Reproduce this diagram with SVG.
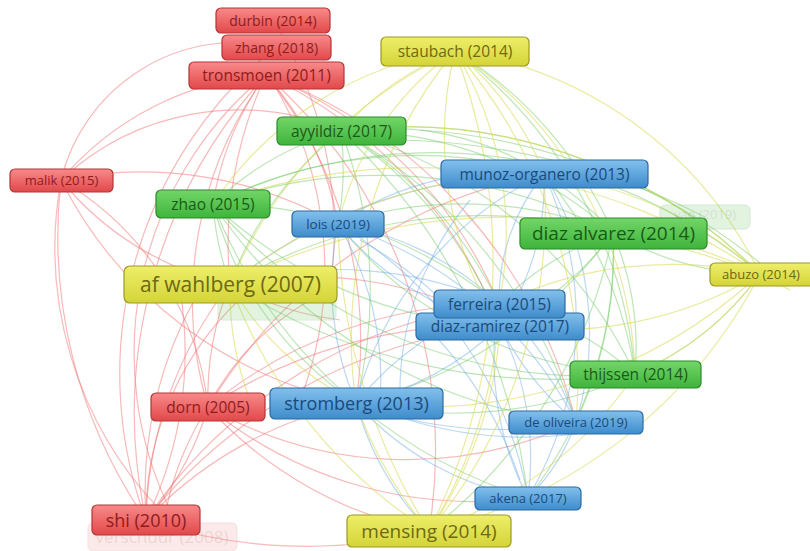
<svg xmlns="http://www.w3.org/2000/svg" width="810" height="551" viewBox="0 0 810 551">
  <defs>
    <linearGradient id="gR" x1="0" y1="0" x2="0" y2="1">
      <stop offset="0" stop-color="#f88a8a"/><stop offset="1" stop-color="#e2484a"/>
    </linearGradient>
    <linearGradient id="gY" x1="0" y1="0" x2="0" y2="1">
      <stop offset="0" stop-color="#eeee6a"/><stop offset="1" stop-color="#d4d438"/>
    </linearGradient>
    <linearGradient id="gG" x1="0" y1="0" x2="0" y2="1">
      <stop offset="0" stop-color="#72d668"/><stop offset="1" stop-color="#3fb43c"/>
    </linearGradient>
    <linearGradient id="gB" x1="0" y1="0" x2="0" y2="1">
      <stop offset="0" stop-color="#82c0ec"/><stop offset="1" stop-color="#3e8ccc"/>
    </linearGradient>
  </defs>
  <style>
    text { font-family: "Open Sans", "Noto Sans", "DejaVu Sans", sans-serif; text-anchor: middle; }
    .edges path { fill: none; stroke-width: 1.2; }
    .er { stroke: #f27474; stroke-opacity: 0.5; }
    .eg { stroke: #6cc860; stroke-opacity: 0.45; }
    .eb { stroke: #6aa8e2; stroke-opacity: 0.45; }
    .ey { stroke: #d8d850; stroke-opacity: 0.55; }
    .nR rect { fill: url(#gR); stroke: #b23636; stroke-width: 1.2; }
    .nR text { fill: #8e1c1c; }
    .nY rect { fill: url(#gY); stroke: #9c9a24; stroke-width: 1.2; }
    .nY text { fill: #6c6a12; }
    .nG rect { fill: url(#gG); stroke: #2c8a2a; stroke-width: 1.2; }
    .nG text { fill: #1a5a18; }
    .nB rect { fill: url(#gB); stroke: #2c6aa2; stroke-width: 1.2; }
    .nB text { fill: #1a4a7c; }
    .faded { opacity: 0.22; }
  </style>
  <rect width="810" height="551" fill="#ffffff"/>

  <!-- links -->
  <g class="edges">
    <!-- red cluster -->
    <path class="er" d="M266 75A400 400 0 0 0 230 284"/>
    <path class="er" d="M266 75A380 380 0 0 0 208 407"/>
    <path class="er" d="M266 75A500 500 0 0 0 146 520"/>
    <path class="er" d="M266 75A420 420 0 0 1 356 403"/>
    <path class="er" d="M266 75A300 300 0 0 1 338 224"/>
    <path class="er" d="M266 75A420 420 0 0 1 499 304"/>
    <path class="er" d="M266 75A460 460 0 0 1 500 326"/>
    <path class="er" d="M266 75A300 300 0 0 0 213 204"/>
    <path class="er" d="M266 75A500 500 0 0 1 429 531"/>
    <path class="er" d="M266 75A300 300 0 0 0 61 180"/>
    <path class="er" d="M266 75A500 500 0 0 1 576 422"/>
    <path class="er" d="M270 78A360 360 0 0 1 300 400"/>
    <path class="er" d="M262 78A360 360 0 0 0 170 510"/>
    <path class="er" d="M276 47A180 180 0 0 0 61 180"/>
    <path class="er" d="M276 47A420 420 0 0 0 146 520"/>
    <path class="er" d="M273 20A400 400 0 0 1 330 290"/>
    <path class="er" d="M61 180A260 260 0 0 1 341 131"/>
    <path class="er" d="M61 180A300 300 0 0 0 230 284"/>
    <path class="er" d="M61 180A300 300 0 0 1 208 407"/>
    <path class="er" d="M61 180A500 500 0 0 0 146 520"/>
    <path class="er" d="M61 180A420 420 0 0 0 356 403"/>
    <path class="er" d="M61 180A400 400 0 0 1 338 224"/>
    <path class="er" d="M61 180A380 380 0 0 0 160 510"/>
    <path class="er" d="M208 407A300 300 0 0 1 146 520"/>
    <path class="er" d="M208 407A300 300 0 0 1 230 284"/>
    <path class="er" d="M208 407A260 260 0 0 1 330 290"/>
    <path class="er" d="M208 407A500 500 0 0 1 500 326"/>
    <path class="er" d="M208 407A400 400 0 0 0 576 422"/>
    <path class="er" d="M208 407A420 420 0 0 0 528 498"/>
    <path class="er" d="M208 407A400 400 0 0 0 429 531"/>
    <path class="er" d="M208 407A500 500 0 0 1 544 174"/>
    <path class="er" d="M208 407A450 450 0 0 1 499 304"/>
    <path class="er" d="M146 520A400 400 0 0 1 230 284"/>
    <path class="er" d="M146 520A300 300 0 0 1 250 290"/>
    <path class="er" d="M146 520A400 400 0 0 1 356 403"/>
    <path class="er" d="M146 520A500 500 0 0 1 499 304"/>
    <path class="er" d="M146 520A500 500 0 0 0 429 531"/>
    <path class="er" d="M146 520A520 520 0 0 1 500 326"/>
    <path class="er" d="M146 520A400 400 0 0 1 200 290"/>
    <path class="er" d="M146 520A380 380 0 0 0 180 290"/>
    <path class="er" d="M162 537A300 300 0 0 1 208 407"/>
    <path class="er" d="M230 284A400 400 0 0 1 500 326"/>
    <path class="er" d="M230 284A300 300 0 0 0 340 320"/>

    <!-- green cluster -->
    <path class="eg" d="M341 131A400 400 0 0 1 613 233"/>
    <path class="eg" d="M341 131A300 300 0 0 1 544 174"/>
    <path class="eg" d="M341 131A400 400 0 0 1 499 304"/>
    <path class="eg" d="M341 131A400 400 0 0 1 500 326"/>
    <path class="eg" d="M341 131A450 450 0 0 1 356 403"/>
    <path class="eg" d="M341 131A450 450 0 0 1 635 374"/>
    <path class="eg" d="M341 131A500 500 0 0 1 760 274"/>
    <path class="eg" d="M341 131A300 300 0 0 0 213 204"/>
    <path class="eg" d="M341 131A350 350 0 0 0 230 284"/>
    <path class="eg" d="M341 131A300 300 0 0 1 338 224"/>
    <path class="eg" d="M341 131A500 500 0 0 1 576 422"/>
    <path class="eg" d="M341 131A600 600 0 0 1 528 498"/>
    <path class="eg" d="M213 204A500 500 0 0 1 613 233"/>
    <path class="eg" d="M213 204A450 450 0 0 1 544 174"/>
    <path class="eg" d="M213 204A450 450 0 0 1 499 304"/>
    <path class="eg" d="M213 204A450 450 0 0 0 500 326"/>
    <path class="eg" d="M213 204A350 350 0 0 0 356 403"/>
    <path class="eg" d="M213 204A500 500 0 0 0 635 374"/>
    <path class="eg" d="M213 204A300 300 0 0 0 230 284"/>
    <path class="eg" d="M213 204A500 500 0 0 0 576 422"/>
    <path class="eg" d="M213 204A500 500 0 0 0 528 498"/>
    <path class="eg" d="M213 204A500 500 0 0 1 760 274"/>
    <path class="eg" d="M613 233A300 300 0 0 1 635 374"/>
    <path class="eg" d="M613 233A450 450 0 0 1 356 403"/>
    <path class="eg" d="M613 233A300 300 0 0 1 500 326"/>
    <path class="eg" d="M613 233A300 300 0 0 0 499 304"/>
    <path class="eg" d="M613 233A300 300 0 0 0 760 274"/>
    <path class="eg" d="M613 233A500 500 0 0 0 230 284"/>
    <path class="eg" d="M613 233A300 300 0 0 0 544 174"/>
    <path class="eg" d="M613 233A400 400 0 0 0 455 51"/>
    <path class="eg" d="M613 233A400 400 0 0 0 338 224"/>
    <path class="eg" d="M613 233A500 500 0 0 1 429 531"/>
    <path class="eg" d="M613 233A400 400 0 0 1 576 422"/>
    <path class="eg" d="M613 233A400 400 0 0 1 528 498"/>
    <path class="eg" d="M635 374A450 450 0 0 1 356 403"/>
    <path class="eg" d="M635 374A400 400 0 0 0 544 174"/>
    <path class="eg" d="M635 374A450 450 0 0 0 455 51"/>
    <path class="eg" d="M635 374A600 600 0 0 1 230 284"/>
    <path class="eg" d="M635 374A300 300 0 0 0 499 304"/>
    <path class="eg" d="M635 374A300 300 0 0 0 760 274"/>
    <path class="eg" d="M635 374A400 400 0 0 1 338 224"/>
    <path class="eg" d="M420 130A600 600 0 0 1 780 280"/>
    <path class="eg" d="M300 145A700 700 0 0 1 705 217"/>

    <!-- blue cluster -->
    <path class="eb" d="M544 174A300 300 0 0 0 338 224"/>
    <path class="eb" d="M544 174A200 200 0 0 0 499 304"/>
    <path class="eb" d="M544 174A250 250 0 0 1 500 326"/>
    <path class="eb" d="M544 174A350 350 0 0 0 356 403"/>
    <path class="eb" d="M544 174A300 300 0 0 1 576 422"/>
    <path class="eb" d="M544 174A350 350 0 0 1 528 498"/>
    <path class="eb" d="M544 174A500 500 0 0 0 230 284"/>
    <path class="eb" d="M338 224A300 300 0 0 1 499 304"/>
    <path class="eb" d="M338 224A300 300 0 0 0 500 326"/>
    <path class="eb" d="M338 224A300 300 0 0 0 356 403"/>
    <path class="eb" d="M338 224A400 400 0 0 1 576 422"/>
    <path class="eb" d="M338 224A400 400 0 0 1 528 498"/>
    <path class="eb" d="M338 224A300 300 0 0 1 380 400"/>
    <path class="eb" d="M499 304A300 300 0 0 0 356 403"/>
    <path class="eb" d="M499 304A300 300 0 0 1 576 422"/>
    <path class="eb" d="M499 304A300 300 0 0 0 528 498"/>
    <path class="eb" d="M500 326A300 300 0 0 1 356 403"/>
    <path class="eb" d="M500 326A300 300 0 0 1 528 498"/>
    <path class="eb" d="M500 326A300 300 0 0 0 576 422"/>
    <path class="eb" d="M356 403A400 400 0 0 0 576 422"/>
    <path class="eb" d="M356 403A300 300 0 0 0 528 498"/>
    <path class="eb" d="M356 403A300 300 0 0 0 429 531"/>
    <path class="eb" d="M576 422A200 200 0 0 1 528 498"/>
    <path class="eb" d="M400 400A300 300 0 0 1 470 200"/>
    <path class="eb" d="M380 410A400 400 0 0 0 600 430"/>
    <path class="eb" d="M420 320A400 400 0 0 1 520 480"/>
    <path class="eb" d="M360 240A400 400 0 0 1 470 330"/>
    <path class="eb" d="M230 284A400 400 0 0 1 499 304"/>

    <!-- yellow cluster -->
    <path class="ey" d="M455 51A450 450 0 0 0 230 284"/>
    <path class="ey" d="M455 51A450 450 0 0 0 356 403"/>
    <path class="ey" d="M455 51A350 350 0 0 1 499 304"/>
    <path class="ey" d="M455 51A350 350 0 0 0 500 326"/>
    <path class="ey" d="M455 51A600 600 0 0 1 429 531"/>
    <path class="ey" d="M455 51A400 400 0 0 1 760 274"/>
    <path class="ey" d="M455 51A300 300 0 0 1 544 174"/>
    <path class="ey" d="M455 51A300 300 0 0 0 338 224"/>
    <path class="ey" d="M455 51A400 400 0 0 1 635 374"/>
    <path class="ey" d="M455 51A350 350 0 0 0 213 204"/>
    <path class="ey" d="M455 51A300 300 0 0 0 341 131"/>
    <path class="ey" d="M455 51A500 500 0 0 1 576 422"/>
    <path class="ey" d="M760 274A600 600 0 0 0 230 284"/>
    <path class="ey" d="M760 274A500 500 0 0 1 356 403"/>
    <path class="ey" d="M760 274A400 400 0 0 0 499 304"/>
    <path class="ey" d="M760 274A400 400 0 0 1 500 326"/>
    <path class="ey" d="M760 274A400 400 0 0 0 544 174"/>
    <path class="ey" d="M760 274A500 500 0 0 1 429 531"/>
    <path class="ey" d="M760 274A300 300 0 0 1 635 374"/>
    <path class="ey" d="M760 274A600 600 0 0 0 213 204"/>
    <path class="ey" d="M760 274A500 500 0 0 0 341 131"/>
    <path class="ey" d="M429 531A500 500 0 0 1 230 284"/>
    <path class="ey" d="M429 531A400 400 0 0 1 356 403"/>
    <path class="ey" d="M429 531A450 450 0 0 0 499 304"/>
    <path class="ey" d="M429 531A400 400 0 0 0 500 326"/>
    <path class="ey" d="M429 531A500 500 0 0 0 544 174"/>
    <path class="ey" d="M429 531A400 400 0 0 0 635 374"/>
    <path class="ey" d="M429 531A600 600 0 0 1 338 224"/>
    <path class="ey" d="M230 284A300 300 0 0 0 356 403"/>
    <path class="ey" d="M230 284A500 500 0 0 1 544 174"/>
    <path class="ey" d="M230 290A300 300 0 0 0 250 400"/>
    <path class="ey" d="M640 240A500 500 0 0 1 790 290"/>
  </g>

  <!-- faded labels lying underneath -->
  <g id="faded-under-wahlberg" class="faded">
    <rect x="218" y="294" width="118" height="26" rx="5" fill="#7fcf78" stroke="#5aa855"/>
  </g>
  <g id="yao-2019" class="faded">
    <rect x="660" y="205" width="90" height="24" rx="5" fill="#7fd078" stroke="#4a9a48"/>
    <text x="705" y="219" font-size="13" fill="#3d6d3a">yao (2019)</text>
  </g>
  <g id="verschuur-2008" class="faded">
    <rect x="88" y="523" width="149" height="28" rx="5" fill="#f5a0a0" stroke="#d07070"/>
    <text x="162" y="543" font-size="17" fill="#b04040">verschuur (2008)</text>
  </g>

  <!-- nodes -->
  <g id="durbin-2014" class="nR">
    <rect x="216" y="8" width="114" height="25" rx="5"/>
    <text x="273" y="25.5" font-size="14">durbin (2014)</text>
  </g>
  <g id="zhang-2018" class="nR">
    <rect x="222" y="35" width="109" height="25" rx="5"/>
    <text x="276.5" y="52.5" font-size="14">zhang (2018)</text>
  </g>
  <g id="tronsmoen-2011" class="nR">
    <rect x="189" y="62" width="155" height="27" rx="5"/>
    <text x="266.5" y="81" font-size="15.5">tronsmoen (2011)</text>
  </g>
  <g id="staubach-2014" class="nY">
    <rect x="381" y="37" width="148" height="29" rx="5"/>
    <text x="455" y="57" font-size="15.5">staubach (2014)</text>
  </g>
  <g id="ayyildiz-2017" class="nG">
    <rect x="277" y="117" width="129" height="28" rx="5"/>
    <text x="341.5" y="136.5" font-size="15.5">ayyildiz (2017)</text>
  </g>
  <g id="malik-2015" class="nR">
    <rect x="10" y="169" width="103" height="23" rx="5"/>
    <text x="61.5" y="185" font-size="13">malik (2015)</text>
  </g>
  <g id="munoz-organero-2013" class="nB">
    <rect x="441" y="160" width="207" height="28" rx="5"/>
    <text x="544.5" y="179.5" font-size="15.5">munoz-organero (2013)</text>
  </g>
  <g id="zhao-2015" class="nG">
    <rect x="156" y="190" width="114" height="28" rx="5"/>
    <text x="213" y="209.5" font-size="15.5">zhao (2015)</text>
  </g>
  <g id="lois-2019" class="nB">
    <rect x="292" y="211" width="92" height="26" rx="5"/>
    <text x="338" y="228.5" font-size="13.5">lois (2019)</text>
  </g>
  <g id="diaz-alvarez-2014" class="nG">
    <rect x="520" y="218" width="187" height="31" rx="5"/>
    <text x="613.5" y="240" font-size="19">diaz alvarez (2014)</text>
  </g>
  <g id="abuzo-2014" class="nY">
    <rect x="710" y="263" width="106" height="23" rx="5"/>
    <text x="761" y="279" font-size="13">abuzo (2014)</text>
  </g>
  <g id="af-wahlberg-2007" class="nY">
    <rect x="124" y="266" width="213" height="37" rx="6"/>
    <text x="230.5" y="292" font-size="21">af wahlberg (2007)</text>
  </g>
  <g id="diaz-ramirez-2017" class="nB">
    <rect x="416" y="313" width="168" height="27" rx="5"/>
    <text x="500" y="332" font-size="15.5">diaz-ramirez (2017)</text>
  </g>
  <g id="ferreira-2015" class="nB">
    <rect x="434" y="290" width="131" height="28" rx="5"/>
    <text x="499.5" y="309.5" font-size="15.5">ferreira (2015)</text>
  </g>
  <g id="thijssen-2014" class="nG">
    <rect x="570" y="361" width="131" height="27" rx="5"/>
    <text x="635.5" y="380" font-size="15.5">thijssen (2014)</text>
  </g>
  <g id="dorn-2005" class="nR">
    <rect x="151" y="393" width="114" height="28" rx="5"/>
    <text x="208" y="412.5" font-size="15.5">dorn (2005)</text>
  </g>
  <g id="stromberg-2013" class="nB">
    <rect x="270" y="388" width="173" height="31" rx="5"/>
    <text x="356.5" y="409.5" font-size="18">stromberg (2013)</text>
  </g>
  <g id="de-oliveira-2019" class="nB">
    <rect x="509" y="411" width="134" height="23" rx="5"/>
    <text x="576" y="427" font-size="13">de oliveira (2019)</text>
  </g>
  <g id="akena-2017" class="nB">
    <rect x="475" y="487" width="106" height="23" rx="5"/>
    <text x="528" y="503" font-size="13">akena (2017)</text>
  </g>
  <g id="shi-2010" class="nR">
    <rect x="92" y="505" width="108" height="30" rx="5"/>
    <text x="146" y="526.5" font-size="18">shi (2010)</text>
  </g>
  <g id="mensing-2014" class="nY">
    <rect x="347" y="515" width="164" height="32" rx="5"/>
    <text x="429" y="537.5" font-size="19">mensing (2014)</text>
  </g>
</svg>
